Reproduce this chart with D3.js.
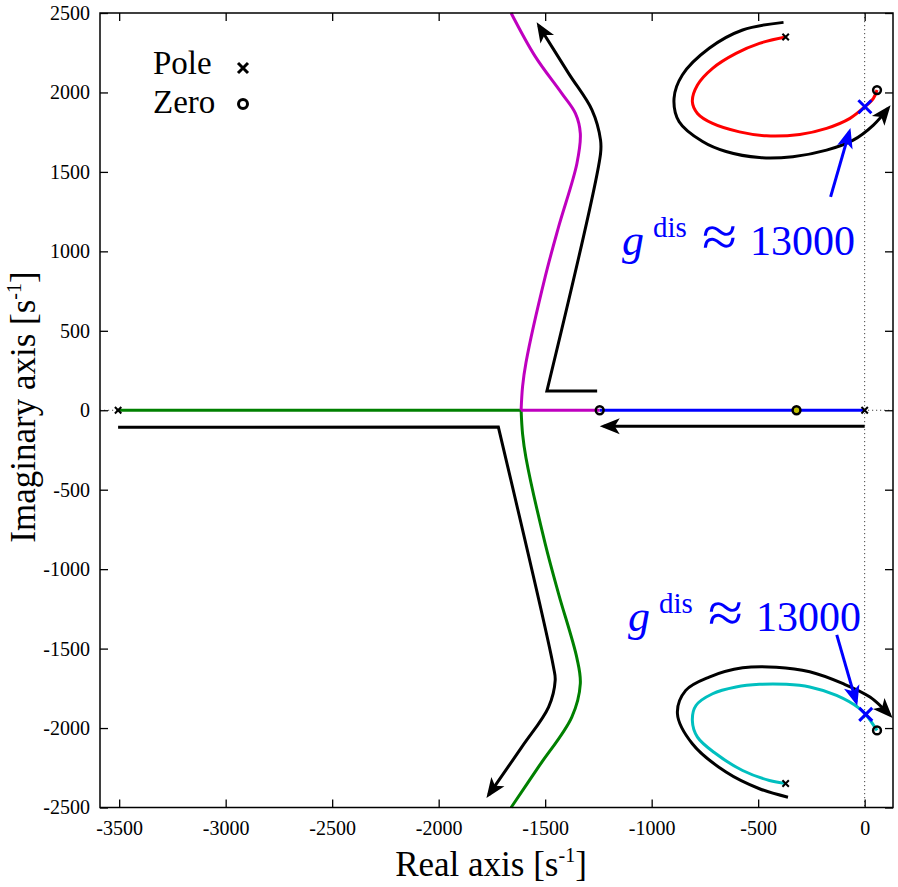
<!DOCTYPE html>
<html><head><meta charset="utf-8">
<script src="https://cdn.jsdelivr.net/npm/d3@7"></script>
<style>body{margin:0;background:#fff}svg{display:block}svg text{font-family:"Liberation Serif","Times New Roman",serif !important}</style>
</head><body><svg id="c" width="898" height="887"></svg>
<script>
// ---------- data (real part, imaginary part) in s^-1 ----------
const xTicks = [-3500,-3000,-2500,-2000,-1500,-1000,-500,0];
const yTicks = [-2500,-2000,-1500,-1000,-500,0,500,1000,1500,2000,2500];
const poles = [[-3505,0],[0,0],[-371,2349],[-371,-2349]];
const zeros = [[-1244,0],[-320,0],[58,2015],[58,-2015]];
const gainMarks = [[1,1910],[5,-1914]];
const gainLabel = "13000";

const branchBlue = [[0,0],[-1244,0]];
const branchMagentaReal = [[-1244,0],[-1613,0]];
const branchMagenta = [[-1613,0],[-1606,150],[-1590,300],[-1500,839],[-1437,1154],[-1351,1553],[-1335,1742],[-1358,1868],[-1422,1994],[-1547,2227],[-1660,2500]];
const branchGreenReal = [[-3505,0],[-1613,0]];
const branchGreen = [[-1613,0],[-1606,-150],[-1590,-300],[-1500,-839],[-1437,-1155],[-1351,-1560],[-1335,-1721],[-1375,-1931],[-1532,-2246],[-1660,-2500]];
const branchRed = [[-371,2349],[-494,2309],[-604,2246],[-714,2152],[-785,2047],[-809,1942],[-785,1868],[-714,1805],[-588,1752],[-462,1727],[-305,1736],[-179,1774],[-69,1837],[1,1910],[41,1963],[58,2015]];
const branchCyan = [[-371,-2349],[-447,-2330],[-573,-2267],[-698,-2162],[-785,-2057],[-809,-1952],[-792,-1858],[-714,-1784],[-604,-1742],[-494,-1725],[-368,-1725],[-258,-1742],[-132,-1795],[-22,-1879],[9,-1921],[58,-2015]];

// direction arrows: list of pieces (pieces joined with sharp corners)
const arrowTopLoop = [[[-381,2441],[-573,2393],[-730,2278],[-856,2110],[-895,1963],[-871,1816],[-761,1691],[-651,1628],[-494,1590],[-337,1596],[-179,1637],[-54,1700],[41,1795],[110,1900]]];
const arrowBottomLoop = [[[-360,-2435],[-494,-2382],[-651,-2277],[-809,-2099],[-879,-1910],[-840,-1763],[-730,-1679],[-573,-1621],[-415,-1617],[-258,-1646],[-101,-1721],[25,-1805],[118,-1918]]];
const arrowUpper = [[[-1256,121],[-1492,121]],[[-1492,121],[-1240,1616],[-1240,1700],[-1280,1889],[-1390,2120],[-1530,2420]]];
const arrowLower = [[[-3505,-107],[-1720,-105]],[[-1720,-105],[-1461,-1616],[-1453,-1700],[-1484,-1868],[-1610,-2120],[-1765,-2420]]];
const arrowReal = [[[0,-100],[-1225,-100]]];
const annotTop = [[-160,1343],[-72,1752]];
const annotBottom = [[-131,-1414],[-40,-1835]];

// ---------- layout ----------
const SERIF = "'Liberation Serif','Times New Roman',serif";
const svg = d3.select("#c");
const L = 100, R = 893, T = 13, B = 807.5;
const x = d3.scaleLinear().domain([-3590,133]).range([L,R]);
const y = d3.scaleLinear().domain([-2500,2500]).range([B,T]);
const line = d3.line().x(d=>x(d[0])).y(d=>y(d[1])).curve(d3.curveCatmullRom.alpha(0.5));
const lineLin = d3.line().x(d=>x(d[0])).y(d=>y(d[1]));

const defs = svg.append("defs");
function mk(id, color, s){
  defs.append("marker").attr("id",id).attr("markerUnits","userSpaceOnUse")
    .attr("viewBox","-30 -15 40 30").attr("refX",0).attr("refY",0)
    .attr("markerWidth",40).attr("markerHeight",30).attr("orient","auto")
    .style("overflow","visible")
    .append("path").attr("d",`M${4*s},0 L${-16*s},${-8*s} L${-11*s},0 L${-16*s},${8*s} Z`).attr("fill",color);
}
mk("ah","#000",1); mk("ahb","#0000ff",1);

// dotted zero lines
svg.append("line").attr("x1",x(0)).attr("x2",x(0)).attr("y1",T).attr("y2",B)
  .attr("stroke","#444").attr("stroke-width",1).attr("stroke-dasharray","1.2,2.8");
svg.append("line").attr("x1",L).attr("x2",R).attr("y1",y(0)).attr("y2",y(0))
  .attr("stroke","#444").attr("stroke-width",1).attr("stroke-dasharray","1.2,2.8");

// black direction arrows
function piecePath(pieces){
  let d = "";
  pieces.forEach((p,i)=>{
    let s = (p.length>2 ? line(p) : lineLin(p));
    if(i>0) s = "L" + s.slice(1);
    d += s;
  });
  return d;
}
[arrowTopLoop,arrowBottomLoop,arrowUpper,arrowLower,arrowReal].forEach(a=>{
  svg.append("path").attr("d",piecePath(a)).attr("fill","none").attr("stroke","#000")
    .attr("stroke-width",3).attr("stroke-linejoin","miter").attr("marker-end","url(#ah)");
});

// locus branches
const branches = [
  [branchGreenReal,"#008000",false],[branchGreen,"#008000",true],
  [branchMagentaReal,"#bf00bf",false],[branchMagenta,"#bf00bf",true],
  [branchBlue,"#0000ff",false],
  [branchRed,"#ff0000",true],[branchCyan,"#00bfbf",true]
];
branches.forEach(([d,c,curved])=>{
  svg.append("path").attr("d",curved?line(d):lineLin(d)).attr("fill","none")
    .attr("stroke",c).attr("stroke-width",3);
});

// zeros
svg.selectAll(".zero").data(zeros).enter().append("circle")
  .attr("cx",d=>x(d[0])).attr("cy",d=>y(d[1])).attr("r",3.9)
  .attr("fill",(d,i)=>i===1?"#bfbf00":"none").attr("stroke","#000").attr("stroke-width",2.5);

// poles
function cross(g, cx, cy, h, color, w){
  g.append("path").attr("d",`M${cx-h},${cy-h}L${cx+h},${cy+h}M${cx-h},${cy+h}L${cx+h},${cy-h}`)
    .attr("stroke",color).attr("stroke-width",w).attr("fill","none");
}
poles.forEach(p=>cross(svg, x(p[0]), y(p[1]), 3.2, "#000", 2));
gainMarks.forEach(p=>cross(svg, x(p[0]), y(p[1]), 6.5, "#0000ff", 3));

// annotation arrows
[annotTop,annotBottom].forEach(a=>{
  svg.append("path").attr("d",lineLin(a)).attr("stroke","#0000ff").attr("stroke-width",3)
    .attr("fill","none").attr("marker-end","url(#ahb)");
});

// annotation labels
function gLabel(px, py){
  const g = svg.append("g").attr("fill","#0000ff");
  g.append("text").attr("x",px).attr("y",py).attr("font-size",44).attr("font-style","italic").text("g");
  g.append("text").attr("x",px+31).attr("y",py-18).attr("font-size",29).text("dis");
  g.append("text").attr("x",px+80).attr("y",py+1).attr("font-size",58).attr("textLength",35)
    .attr("lengthAdjust","spacingAndGlyphs").text("≈");
  g.append("text").attr("x",px+128).attr("y",py).attr("font-size",42).text(gainLabel);
}
gLabel(622, 255);
gLabel(628, 631);

// legend
svg.append("text").attr("x",153).attr("y",74).attr("font-size",33).text("Pole");
svg.append("text").attr("x",153).attr("y",113).attr("font-size",33).text("Zero");
cross(svg, 243, 68, 5, "#000", 3);
svg.append("circle").attr("cx",243).attr("cy",104).attr("r",4.5).attr("fill","none").attr("stroke","#000").attr("stroke-width",3);

// axes
const fmt = d=>String(d);
const gx = svg.append("g").attr("transform",`translate(0,${B})`)
  .call(d3.axisBottom(x).tickValues(xTicks).tickSizeInner(-8).tickSizeOuter(0).tickPadding(13).tickFormat(fmt));
const gy = svg.append("g").attr("transform",`translate(${L},0)`)
  .call(d3.axisLeft(y).tickValues(yTicks).tickSizeInner(-8).tickSizeOuter(0).tickPadding(10).tickFormat(fmt));
const gt = svg.append("g").attr("transform",`translate(0,${T})`)
  .call(d3.axisTop(x).tickValues(xTicks).tickSizeInner(-8).tickSizeOuter(0).tickFormat(""));
const gr = svg.append("g").attr("transform",`translate(${R},0)`)
  .call(d3.axisRight(y).tickValues(yTicks).tickSizeInner(-8).tickSizeOuter(0).tickFormat(""));
[gx,gy,gt,gr].forEach(g=>{
  g.attr("font-family",SERIF).attr("font-size",20);
  g.select(".domain").remove();
  g.selectAll(".tick line").attr("stroke","#000").attr("stroke-width",1.3);
  g.selectAll(".tick text").style("font-family",SERIF).style("font-size","20px").attr("fill","#000");
});
svg.append("rect").attr("x",L).attr("y",T).attr("width",R-L).attr("height",B-T)
  .attr("fill","none").attr("stroke","#000").attr("stroke-width",1.5);

// axis titles
const xt = svg.append("text").attr("x",491).attr("y",876).attr("text-anchor","middle").attr("font-size",35);
xt.append("tspan").text("Real axis [s");
xt.append("tspan").attr("font-size",20).attr("dy",-14).text("-1");
xt.append("tspan").attr("dy",14).text("]");
const yt = svg.append("text").attr("transform",`translate(35,407) rotate(-90)`).attr("text-anchor","middle").attr("font-size",35);
yt.append("tspan").text("Imaginary axis [s");
yt.append("tspan").attr("font-size",20).attr("dy",-14).text("-1");
yt.append("tspan").attr("dy",14).text("]");
</script></body></html>
